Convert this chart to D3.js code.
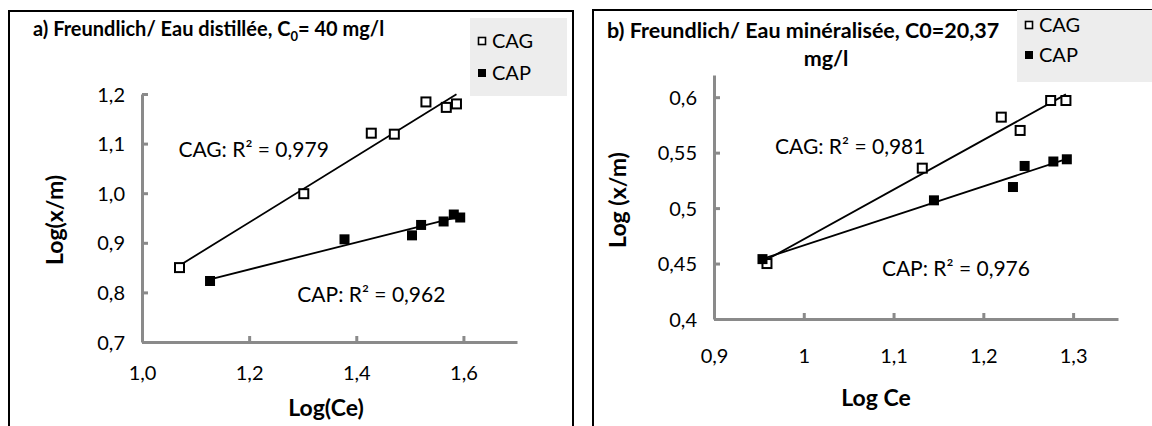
<!DOCTYPE html>
<html>
<head>
<meta charset="utf-8">
<script src="https://cdn.jsdelivr.net/npm/d3@7"></script>
<style>
  body { margin: 0; background: #fff; }
  svg { display: block; font-family: Lato, "Liberation Sans", sans-serif; }
</style>
</head>
<body>
<svg id="chart" width="1152" height="426"></svg>
<script>
// a) eau distillée
const aCagX = [1.070, 1.302, 1.428, 1.471, 1.530, 1.568, 1.587];
const aCagY = [0.850, 0.999, 1.121, 1.119, 1.184, 1.173, 1.180];
const aCapX = [1.127, 1.378, 1.504, 1.521, 1.563, 1.582, 1.594];
const aCapY = [0.823, 0.907, 0.915, 0.936, 0.943, 0.957, 0.951];
const aXTicks = [1.0, 1.2, 1.4, 1.6];
const aYTicks = [0.7, 0.8, 0.9, 1.0, 1.1, 1.2];

// b) eau minéralisée
const bCagX = [0.959, 1.132, 1.220, 1.241, 1.275, 1.292];
const bCagY = [0.450, 0.536, 0.582, 0.570, 0.597, 0.597];
const bCapX = [0.954, 1.145, 1.233, 1.246, 1.278, 1.293];
const bCapY = [0.454, 0.507, 0.519, 0.538, 0.542, 0.544];
const bXTicks = [0.9, 1.0, 1.1, 1.2, 1.3];
const bYTicks = [0.4, 0.45, 0.5, 0.55, 0.6];

const seriesNames = ['CAG', 'CAP'];
const aR2 = ['CAG: R² = 0,979', 'CAP: R² = 0,962'];
const bR2 = ['CAG: R² = 0,981', 'CAP: R² = 0,976'];

const fr = d3.formatLocale({ decimal: ',', thousands: ' ', grouping: [3], currency: ['', ''] });
const fmt1 = fr.format('.1f');
const fmtGen = d => fr.format('~g')(d);

const svg = d3.select('#chart');

// least squares trendline over the data range
function fitLine(xs, ys) {
    const mx = d3.mean(xs), my = d3.mean(ys);
    let sxy = 0, sxx = 0;
    xs.forEach((x, i) => { sxy += (x - mx) * (ys[i] - my); sxx += (x - mx) ** 2; });
    const b = sxy / sxx, a = my - b * mx;
    const x0 = d3.min(xs), x1 = d3.max(xs);
    return [[x0, a + b * x0], [x1, a + b * x1]];
}

function drawPanel(p) {
    const g = svg.append('g');

    // outer frame
    g.append('rect')
        .attr('x', p.frame[0]).attr('y', p.frame[1])
        .attr('width', p.frame[2]).attr('height', p.frame[3])
        .attr('fill', 'none').attr('stroke', '#000').attr('stroke-width', 2);

    const x = d3.scaleLinear().domain(p.xDomain).range(p.xRange);
    const y = d3.scaleLinear().domain(p.yDomain).range(p.yRange);

    const xAxis = g.append('g')
        .attr('transform', `translate(0,${p.yRange[0]})`)
        .call(d3.axisBottom(x).tickValues(p.xTicks).tickFormat(p.xFormat)
            .tickSizeInner(-6).tickSizeOuter(0).tickPadding(p.xPad));
    const yAxis = g.append('g')
        .attr('transform', `translate(${p.xRange[0]},0)`)
        .call(d3.axisLeft(y).tickValues(p.yTicks).tickFormat(p.yFormat)
            .tickSizeInner(-6).tickSizeOuter(0).tickPadding(17));

    [xAxis, yAxis].forEach(ax => {
        ax.select('.domain').attr('stroke', '#8a8a8a').attr('stroke-width', 3);
        ax.selectAll('.tick line').attr('stroke', '#8a8a8a').attr('stroke-width', 3);
        ax.selectAll('.tick text').attr('fill', '#000').style('font-size', '20px')
            .style('font-family', 'Lato, "Liberation Sans", sans-serif');
    });
    yAxis.selectAll('.tick text').attr('dy', '0.35em');

    // trendlines
    const line = d3.line().x(d => x(d[0])).y(d => y(d[1]));
    [[p.cagX, p.cagY], [p.capX, p.capY]].forEach(([xs, ys]) => {
        g.append('path').datum(fitLine(xs, ys))
            .attr('d', line).attr('stroke', '#000').attr('stroke-width', 1.8).attr('fill', 'none');
    });

    // markers
    g.selectAll('.cag').data(p.cagX.map((v, i) => [v, p.cagY[i]])).enter()
        .append('rect').attr('class', 'cag')
        .attr('x', d => x(d[0]) - 4.5).attr('y', d => y(d[1]) - 4.5)
        .attr('width', 9).attr('height', 9)
        .attr('fill', '#fff').attr('stroke', '#000').attr('stroke-width', 2);
    g.selectAll('.cap').data(p.capX.map((v, i) => [v, p.capY[i]])).enter()
        .append('rect').attr('class', 'cap')
        .attr('x', d => x(d[0]) - 5).attr('y', d => y(d[1]) - 5)
        .attr('width', 10).attr('height', 10).attr('fill', '#000');

    // R² labels
    p.r2.forEach((t, i) => {
        g.append('text').attr('x', x(p.r2Pos[i][0])).attr('y', y(p.r2Pos[i][1]))
            .style('font-size', '21px').text(t);
    });

    // axis titles
    g.append('text').attr('x', p.xTitlePos[0]).attr('y', p.xTitlePos[1])
        .attr('text-anchor', 'middle').style('font-size', '23px').style('font-weight', 'bold')
        .text(p.xTitle);
    g.append('text')
        .attr('transform', `translate(${p.yTitlePos[0]},${p.yTitlePos[1]}) rotate(-90)`)
        .attr('text-anchor', 'middle').style('font-size', '23px').style('font-weight', 'bold')
        .text(p.yTitle);

    // legend
    const lg = g.append('g');
    lg.append('rect').attr('x', p.legend[0]).attr('y', p.legend[1])
        .attr('width', p.legend[2]).attr('height', p.legend[3]).attr('fill', '#ededed');
    seriesNames.forEach((s, i) => {
        const cy = p.legend[1] + p.legendRow0 + i * p.legendStep;
        const mx = p.legend[0] + 12;
        if (i === 0) {
            lg.append('rect').attr('x', mx - 3.5).attr('y', cy - 3.5).attr('width', 7).attr('height', 7)
                .attr('fill', '#fff').attr('stroke', '#000').attr('stroke-width', 1.6);
        } else {
            lg.append('rect').attr('x', mx - 4).attr('y', cy - 4).attr('width', 8).attr('height', 8)
                .attr('fill', '#000');
        }
        lg.append('text').attr('x', mx + 10).attr('y', cy).attr('dy', '0.36em')
            .style('font-size', '20px').text(s);
    });

    return g;
}

const ga = drawPanel({
    frame: [9, 11, 564, 430],
    xDomain: [1.0, 1.7], xRange: [142, 517],
    yDomain: [0.7, 1.2], yRange: [342, 94],
    xTicks: aXTicks, yTicks: aYTicks, xFormat: fmt1, yFormat: fmt1,
    xPad: 24,
    cagX: aCagX, cagY: aCagY, capX: aCapX, capY: aCapY,
    r2: aR2, r2Pos: [[1.068, 1.072], [1.290, 0.781]],
    xTitle: 'Log(Ce)', xTitlePos: [326, 416],
    yTitle: 'Log(x/m)', yTitlePos: [63, 220],
    legend: [470, 18, 97, 78], legendRow0: 23, legendStep: 32
});
ga.append('text').attr('x', 33).attr('y', 36)
    .style('font-size', '20px').style('font-weight', 'bold')
    .call(t => {
        t.append('tspan').text('a) Freundlich/ Eau distillée, C');
        t.append('tspan').attr('dy', 5).style('font-size', '13px').text('0');
        t.append('tspan').attr('dy', -5).text('= 40 mg/l');
    });

const gb = drawPanel({
    frame: [593, 10, 580, 430],
    xDomain: [0.9, 1.35], xRange: [714, 1118],
    yDomain: [0.4, 0.62], yRange: [319, 75],
    xTicks: bXTicks, yTicks: bYTicks, xFormat: fmtGen, yFormat: fmtGen,
    xPad: 30,
    cagX: bCagX, cagY: bCagY, capX: bCapX, capY: bCapY,
    r2: bR2, r2Pos: [[0.968, 0.5485], [1.087, 0.4385]],
    xTitle: 'Log Ce', xTitlePos: [876, 406],
    yTitle: 'Log (x/m)', yTitlePos: [626, 200],
    legend: [1017, 10, 135, 72], legendRow0: 15, legendStep: 30
});
gb.append('text').attr('x', 607).attr('y', 38)
    .style('font-size', '21.5px').style('font-weight', 'bold')
    .text('b) Freundlich/ Eau minéralisée, C0=20,37');
gb.append('text').attr('x', 826).attr('y', 66).attr('text-anchor', 'middle')
    .style('font-size', '21.5px').style('font-weight', 'bold')
    .text('mg/l');
</script>
</body>
</html>
